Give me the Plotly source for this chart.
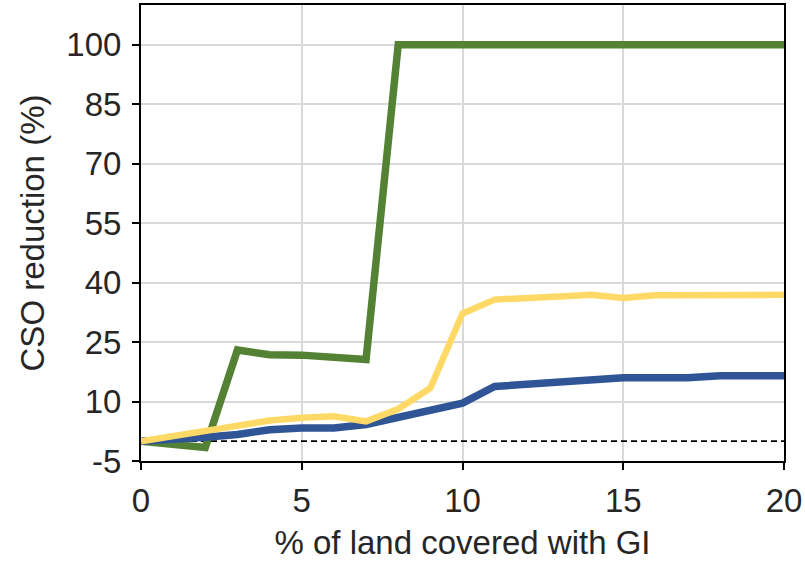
import plotly.graph_objects as go

x_vals = list(range(0, 21))
green_vals = [0, -0.8, -1.6, 23.0, 21.8, 21.7, 21.2, 20.6, 100, 100, 100, 100, 100, 100, 100, 100, 100, 100, 100, 100, 100]
yellow_vals = [0, 1.2, 2.5, 3.9, 5.2, 5.9, 6.3, 5.0, 8.1, 13.4, 32.2, 35.7, 36.3, 36.5, 36.9, 36.1, 36.8, 36.9, 36.9, 36.9, 36.9]
blue_vals = [0, 0.4, 1.0, 1.7, 2.9, 3.3, 3.3, 4.2, 5.9, 7.9, 9.6, 13.8, 14.4, 15.0, 15.6, 16.0, 16.0, 16.0, 16.5, 16.5, 16.5]
zero_line = [0, 0]
zero_x = [0, 20]

y_ticks = [-5, 10, 25, 40, 55, 70, 85, 100]
x_ticks = [0, 5, 10, 15, 20]

FONT = "Liberation Sans, Arial, sans-serif"
TXT = "#262626"
FS = 33

fig = go.Figure()
fig.add_trace(go.Scatter(x=zero_x, y=zero_line, mode="lines",
                         line=dict(color="black", width=1.6, dash="6px,4px"), showlegend=False))
fig.add_trace(go.Scatter(x=x_vals, y=green_vals, mode="lines",
                         line=dict(color="#548235", width=7.5), showlegend=False))
fig.add_trace(go.Scatter(x=x_vals, y=blue_vals, mode="lines",
                         line=dict(color="#2F5597", width=7.5), showlegend=False))
fig.add_trace(go.Scatter(x=x_vals, y=yellow_vals, mode="lines",
                         line=dict(color="#FFD966", width=6.5), showlegend=False))

fig.update_layout(
    width=805, height=561,
    margin=dict(l=141, r=20, t=3, b=100),
    paper_bgcolor="white", plot_bgcolor="white",
    font=dict(family=FONT, size=FS, color=TXT),
    xaxis=dict(range=[0, 20], tickvals=x_ticks, ticktext=[str(v) for v in x_ticks],
               showgrid=True, gridcolor="#d9d9d9", gridwidth=1.5,
               showline=True, linecolor="black", linewidth=2, mirror=True,
               ticks="outside", ticklen=7, tickwidth=2, tickcolor="black",
               zeroline=False, tickfont=dict(size=FS), ticklabelstandoff=2,
               title=dict(text="% of land covered with GI", font=dict(size=FS, color=TXT), standoff=14)),
    yaxis=dict(range=[-5, 110], tickvals=y_ticks, ticktext=[str(v) for v in y_ticks],
               showgrid=True, gridcolor="#d9d9d9", gridwidth=1.5,
               showline=True, linecolor="black", linewidth=2, mirror=True,
               ticks="outside", ticklen=7, tickwidth=2, tickcolor="black",
               zeroline=False, tickfont=dict(size=FS), ticklabelstandoff=4,
               title=dict(text="CSO reduction (%)", font=dict(size=FS, color=TXT), standoff=12)),
)

fig.write_html("out.html", config={"displayModeBar": False},
               post_script="document.body.style.margin='0';")
